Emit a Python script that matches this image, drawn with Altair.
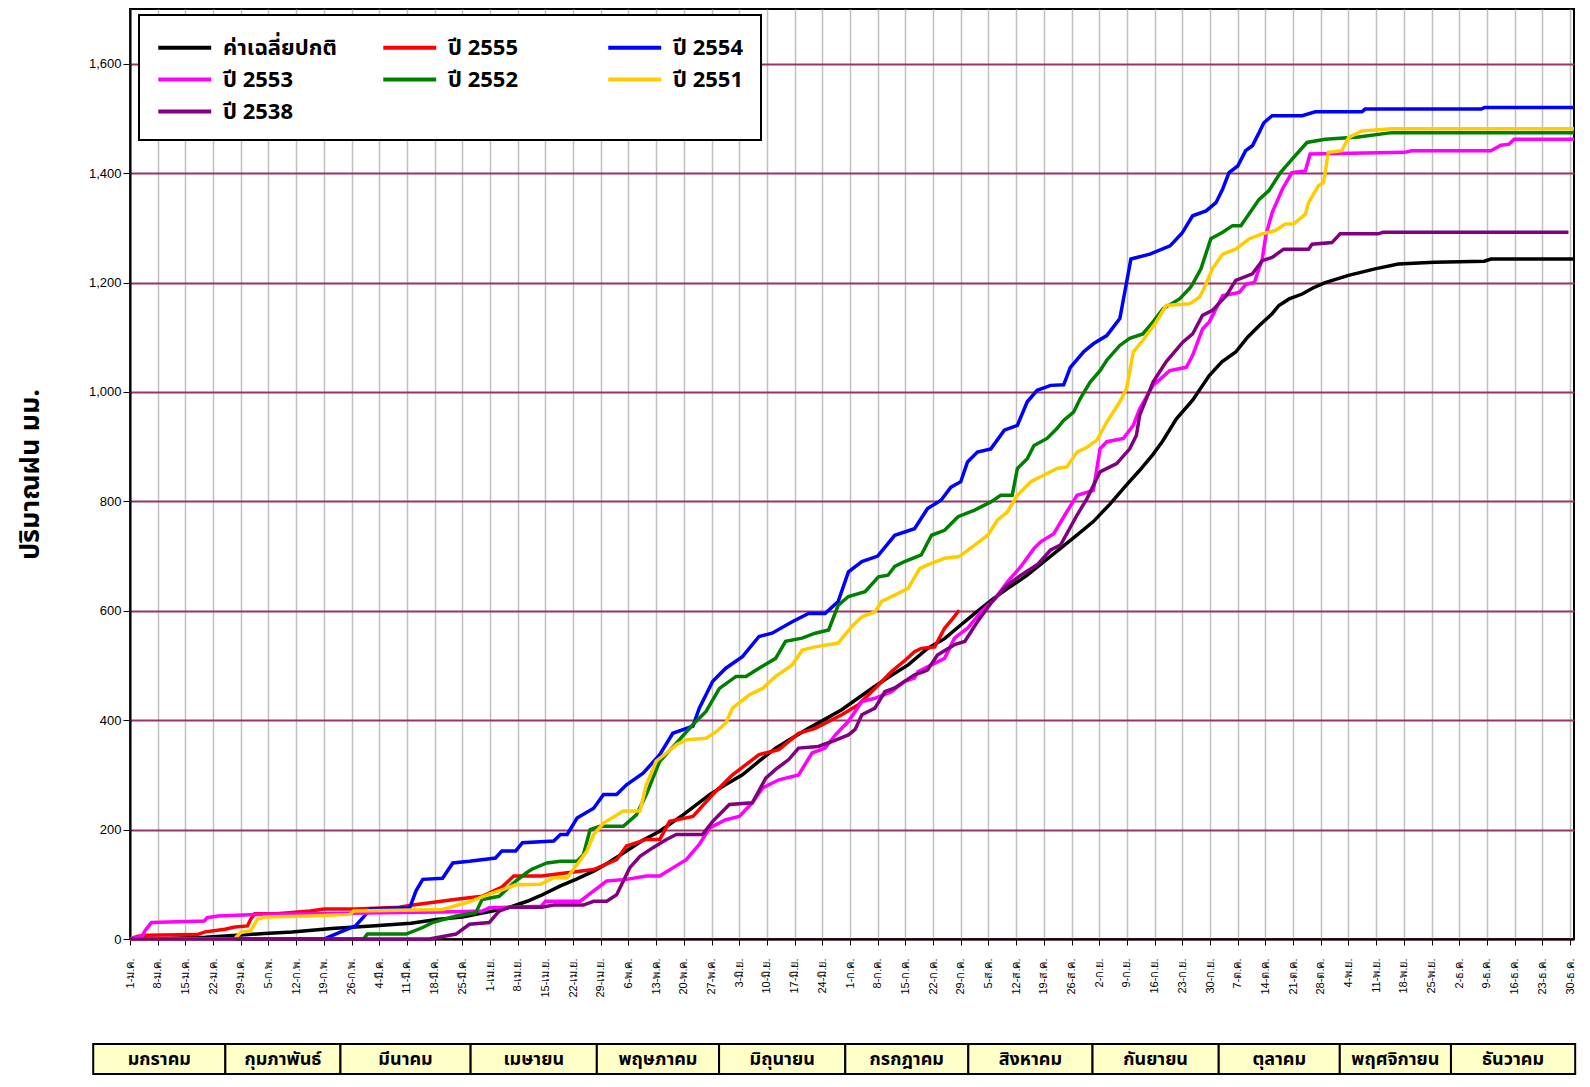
import datetime
import altair as alt
import pandas as pd

# ---------------- data ----------------
series_names = ["ค่าเฉลี่ยปกติ", "ปี 2555", "ปี 2554", "ปี 2553", "ปี 2552", "ปี 2551", "ปี 2538"]
series_colors = ["#000000", "#FF0000", "#0000FF", "#FF00FF", "#008000", "#FFCC00", "#800080"]

avg_day = [1, 10, 20, 28, 35, 42, 52, 63, 72, 79, 85, 92, 97, 101.4, 105, 109.8, 114, 118.2, 122, 126.5,
           130.5, 134.9, 140.8, 147.5, 151.5, 155.8, 160, 164.2, 168.5, 172.5, 176.5, 180.9, 185, 189.3,
           193.5, 197.7, 202.6, 206.9, 211, 215, 219.4, 223.5, 227.8, 232, 236.2, 240.5, 244.5, 248.7,
           252.9, 256, 259.5, 262, 265.5, 269.6, 273.8, 277, 280.5, 283.5, 286.4, 289.7, 291.4, 294,
           297.3, 300, 303.1, 309, 315.7, 321.6, 330.7, 343.3, 345, 366]
avg_mm = [0, 1, 3, 7, 10, 13, 19, 24, 29, 36, 40, 50, 58, 69, 80, 97, 110, 124, 140, 161,
          180, 197, 227, 264, 282, 300, 325, 349, 368, 385, 401, 419, 440, 462,
          482, 501, 531, 549, 574, 598, 623, 644, 665, 690, 714, 739, 763, 795,
          830, 855, 885, 910, 951, 985, 1030, 1055, 1073, 1100, 1121, 1143, 1158, 1170,
          1179, 1190, 1200, 1213, 1225, 1234, 1237, 1239, 1243, 1243]

y2555_day = [1, 3, 5, 18, 20, 25, 27.5, 30.7, 31.5, 32.5, 38, 46.6, 50, 58, 69, 72.5, 84, 90, 95, 98,
             105, 111.5, 118.2, 124, 126.5, 131.5, 134.9, 137.4, 143.3, 148.3, 153.3, 160, 165, 170,
             174.2, 180.9, 185.1, 189.3, 193.5, 197, 199.3, 201, 204.4, 206.9, 209, 210.6]
y2555_mm = [0, 5, 7, 8, 13, 18, 22, 24, 36, 46, 46, 51, 55, 55, 58, 62, 73, 78, 95, 115,
            115, 121, 127, 145, 170, 182, 182, 215, 224, 264, 300, 337, 346, 376,
            385, 410, 428, 458, 489, 510, 525, 531, 534, 568, 586, 601]

y2554_day = [1, 50, 54, 58, 60, 61.7, 71.7, 73.3, 75, 80, 82.6, 86.8, 93.4, 95, 98.5, 100.2, 108.1, 109.8,
             111.5, 114, 118.2, 120.7, 124, 126.5, 130.7, 134.9, 138.2, 143.3, 144.9, 148.3, 151.6, 155.8,
             160, 163.3, 168.4, 172.5, 176.7, 180, 182.6, 186, 190, 194.3, 199.3, 202.6, 206, 208.5, 211,
             212.7, 215.2, 218.6, 222, 225.3, 227.8, 230.3, 233.7, 237, 238.7, 242, 244.5, 247.9, 251.2,
             252.9, 254, 258.8, 263.9, 266.9, 269.6, 273, 275.5, 277.2, 278.8, 281, 283, 284.7, 286.4,
             287.6, 289.7, 297.3, 300.6, 312.4, 313.2, 342.6, 343.4, 366]
y2554_mm = [0, 0, 12, 24, 40, 55, 57, 88, 109, 111, 139, 142, 148, 161, 161, 176, 179, 191,
            191, 221, 239, 264, 264, 282, 303, 337, 376, 389, 422, 471, 495, 516,
            553, 559, 580, 595, 595, 617, 671, 690, 700, 738, 750, 787, 802, 826, 836,
            872, 890, 896, 930, 939, 982, 1003, 1012, 1013, 1045, 1073, 1088, 1103, 1134,
            1200, 1243, 1252, 1267, 1290, 1322, 1331, 1346, 1371, 1401, 1413, 1441, 1450, 1474,
            1492, 1505, 1505, 1512, 1512, 1517, 1517, 1520, 1520]

y2553_day = [1, 4, 4.8, 6.4, 19.8, 20.5, 23.2, 33.2, 83.4, 90, 91.8, 105, 106, 114.8, 118.2, 121.5,
             126.5, 131.5, 134.9, 138.2, 141.6, 144.9, 147.5, 151.6, 155, 158.3, 160.9, 165, 170, 173.4,
             176.7, 179.3, 182.6, 186, 189.3, 193.5, 196.8, 199.3, 200.2, 203.6, 206.9, 209.4, 212.7,
             216.1, 219.4, 222.8, 226.2, 229.5, 231.2, 234.5, 237.8, 240.4, 244.5, 246.2, 247.9, 252.1,
             254.6, 256.2, 259.6, 263.8, 268, 269.6, 272.1, 273.8, 277.2, 281.4, 283.1, 285.2, 287.2,
             288.1, 289.7, 292.3, 294.7, 298.1, 299.3, 323.2, 324.9, 345, 347.5, 349.6, 350.9, 366]
y2553_mm = [0, 5, 15, 30, 33, 39, 42, 45, 50, 51, 57, 60, 69, 69, 88, 106,
            109, 115, 115, 130, 145, 173, 203, 218, 224, 249, 276, 291, 300, 340,
            349, 373, 398, 434, 440, 452, 471, 477, 489, 501, 513, 550, 568,
            598, 620, 653, 681, 714, 726, 741, 781, 811, 820, 896, 909, 915,
            939, 969, 1012, 1039, 1045, 1067, 1115, 1128, 1176, 1182, 1197, 1200, 1243,
            1286, 1328, 1371, 1401, 1404, 1435, 1438, 1441, 1441, 1451, 1453, 1462, 1462]

y2552_day = [1, 60, 61, 70.8, 75, 77.4, 83.4, 88.4, 90, 94.3, 98.5, 101.4, 102.7, 106.4, 109.8, 114,
             115.6, 117.3, 119.8, 125.7, 129, 131.5, 134.9, 139.1, 143.3, 146.6, 150, 154.2, 156.7, 160,
             164.2, 166.7, 170.9, 174.2, 177.6, 180, 182.6, 186.8, 190.2, 192.6, 194.3, 196.8, 201, 203.6,
             206.9, 210.3, 214.5, 218.6, 221.1, 224, 225.3, 227.8, 229.5, 232.8, 235.3, 237, 239.5, 241.2,
             243.7, 246.2, 247.9, 251.2, 253.7, 257, 259.6, 262.1, 266.3, 268.8, 269.6, 271.7, 274.2,
             277.2, 279.7, 281.8, 286.4, 288.9, 291.8, 294.7, 298.5, 303.1, 311.5, 319.9, 366]
y2552_mm = [0, 0, 9, 9, 21, 30, 42, 48, 72, 78, 106, 122, 128, 139, 142, 142,
            154, 200, 206, 206, 227, 264, 325, 358, 392, 416, 458, 480, 480, 495,
            513, 544, 550, 559, 565, 610, 626, 635, 662, 665, 681, 690, 702, 738,
            747, 772, 784, 799, 811, 811, 860, 878, 902, 915, 933, 948, 963, 988,
            1018, 1039, 1058, 1085, 1098, 1106, 1128, 1152, 1170, 1189, 1197, 1225, 1280,
            1292, 1304, 1304, 1352, 1368, 1401, 1425, 1456, 1462, 1466, 1474, 1474]

y2551_day = [1, 27.4, 29, 31.5, 33.2, 34.9, 46.6, 56.6, 57.5, 80, 86.8, 91.8, 95.9, 98.5, 104.7, 108.1,
             111.5, 114, 116.5, 118.2, 120.7, 125.7, 129.9, 131.5, 134, 136.6, 139.1, 141.6, 146.6, 149.2,
             151.6, 153.3, 157.5, 160.9, 164.2, 168.4, 170.9, 174.2, 180, 183.4, 186, 189.3, 191, 195.2,
             197.7, 200.6, 202.6, 206.9, 210.6, 214.5, 217.8, 220.3, 222.8, 225.3, 228.7, 232.8, 235.3,
             237.8, 240.4, 242.9, 245.4, 247.9, 251.2, 252.9, 254.6, 257, 260.4, 262.9, 268.8, 271.3,
             272.5, 274.6, 277.2, 280.5, 283.9, 287.2, 290.5, 293, 295.1, 298.1, 298.9, 301.4, 302.7,
             303.9, 307.3, 309, 312.4, 319.9, 366]
y2551_mm = [0, 0, 12, 15, 36, 40, 42, 45, 51, 54, 68, 82, 92, 99, 100, 112,
            112, 136, 161, 191, 212, 234, 234, 282, 325, 340, 355, 364, 367, 379,
            395, 422, 446, 458, 480, 501, 528, 534, 541, 571, 589, 598, 617, 632,
            641, 677, 684, 696, 699, 720, 738, 766, 781, 811, 836, 851, 860,
            863, 890, 899, 912, 945, 982, 1006, 1073, 1094, 1128, 1158, 1161, 1173,
            1189, 1225, 1252, 1261, 1280, 1289, 1295, 1307, 1307, 1325, 1346, 1377, 1383,
            1438, 1441, 1465, 1477, 1481, 1481]

y2538_day = [1, 76.7, 83.4, 86.8, 91.8, 94.3, 96.8, 105.1, 108.1, 115.6, 118.2, 121.5, 124, 125.7,
             127.3, 129.9, 133.2, 136.6, 139.1, 145.7, 148.3, 152.5, 158.3, 161.7, 164.2, 167.5, 170,
             175, 178.4, 182.6, 184.3, 186, 189.3, 191.8, 194.3, 196.8, 199.3, 201.8, 202.6, 205.1,
             209.4, 212, 215.2, 218.6, 222.8, 226.2, 230.3, 233.7, 236.2, 240.4, 242.9, 246.2, 250.4,
             253.7, 255.4, 256.2, 259.6, 262.9, 267.1, 269.6, 272.1, 274.6, 278.1, 280.5, 284.7, 287.2,
             289.7, 292.6, 298.9, 299.8, 304.8, 306.9, 316.5, 317.8, 364.6]
y2538_mm = [0, 0, 9, 27, 30, 51, 58, 58, 62, 62, 69, 69, 81, 106,
            130, 151, 167, 182, 191, 191, 215, 246, 249, 294, 310, 328, 349,
            352, 361, 373, 383, 410, 422, 452, 459, 471, 483, 489, 492, 519,
            538, 544, 580, 614, 647, 665, 684, 711, 720, 775, 805, 854, 869,
            896, 921, 957, 1018, 1055, 1091, 1106, 1140, 1149, 1176, 1204, 1216, 1240,
            1246, 1261, 1261, 1270, 1273, 1289, 1289, 1292, 1292]

thai_month_abbr = ["ม.ค.", "ก.พ.", "มี.ค.", "เม.ย.", "พ.ค.", "มิ.ย.", "ก.ค.", "ส.ค.", "ก.ย.", "ต.ค.", "พ.ย.", "ธ.ค."]
month_names = ["มกราคม", "กุมภาพันธ์", "มีนาคม", "เมษายน", "พฤษภาคม", "มิถุนายน",
               "กรกฎาคม", "สิงหาคม", "กันยายน", "ตุลาคม", "พฤศจิกายน", "ธันวาคม"]
# edges of the month boxes of the table under the chart, in day-of-year units
month_box_edges = [-8.3, 25.1, 54.2, 87.1, 119.0, 149.9, 181.8, 212.9, 244.3, 276.2, 306.8, 334.9, 366.3]

y_tick_values = [0, 200, 400, 600, 800, 1000, 1200, 1400, 1600]

# weekly tick labels (leap year 2012 = พ.ศ. 2555)
tick_days = []
tick_labels = []
for k in range(53):
    d = datetime.date(2012, 1, 1) + datetime.timedelta(days=7 * k)
    tick_days.append(1 + 7 * k)
    tick_labels.append(f"{d.day}-{thai_month_abbr[d.month - 1]}")

# ---------------- build table ----------------
pairs = [(avg_day, avg_mm), (y2555_day, y2555_mm), (y2554_day, y2554_mm), (y2553_day, y2553_mm),
         (y2552_day, y2552_mm), (y2551_day, y2551_mm), (y2538_day, y2538_mm)]
rows = []
for name, (days, vals) in zip(series_names, pairs):
    for d, v in zip(days, vals):
        rows.append({"series": name, "day": d, "mm": v})
df = pd.DataFrame(rows)

label_array = "[" + ",".join("'" + s + "'" for s in tick_labels) + "]"
THAI = "Noto Sans Thai, Noto Sans, DejaVu Sans, sans-serif"

PLOT_W = 1444
x_scale = alt.Scale(domain=[1, 366], nice=False, zero=False)

lines = alt.Chart(df).mark_line(strokeWidth=3.5).encode(
    x=alt.X("day:Q", scale=x_scale,
            axis=alt.Axis(values=tick_days, labelExpr=label_array + "[round((datum.value - 1) / 7)]",
                          labelAngle=270, labelFont="Liberation Sans", labelFontSize=11,
                          labelColor="black", grid=True, gridColor="#C0C0C0", gridWidth=1.5,
                          tickColor="black", tickSize=6, domainColor="black", domainWidth=2,
                          labelPadding=13, title=None, labelOverlap=False)),
    y=alt.Y("mm:Q", scale=alt.Scale(domain=[0, 1700], nice=False),
            axis=alt.Axis(values=y_tick_values, format=",d", labelFont="Liberation Sans",
                          labelFontSize=13, labelColor="black", grid=True, gridColor="#993366",
                          gridWidth=2, tickColor="black", tickSize=7, domainColor="black",
                          domainWidth=2, title="ปริมาณฝน มม.", titleFont=THAI, titleFontSize=27,
                          titleFontWeight="bold", titleColor="black", titleX=-86)),
    color=alt.Color("series:N", scale=alt.Scale(domain=series_names, range=series_colors),
                    legend=alt.Legend(title=None, orient="none", legendX=9, legendY=6, columns=3,
                                      direction="horizontal", gridAlign="all",
                                      symbolType="M-1,0H3", symbolSize=700,
                                      symbolStrokeWidth=4, labelFont=THAI, labelFontSize=22,
                                      labelFontWeight="bold", labelColor="black", labelOffset=36,
                                      padding=17, fillColor="white", strokeColor="black",
                                      rowPadding=5, columnPadding=38, labelLimit=400)),
).properties(width=PLOT_W, height=930)

mdf = pd.DataFrame({"name": month_names, "start": month_box_edges[:-1], "end": month_box_edges[1:]})
mdf["mid"] = (mdf["start"] + mdf["end"]) / 2

boxes = alt.Chart(mdf).mark_rect(fill="#FFFFC8", stroke="black", strokeWidth=2, clip=False).encode(
    x=alt.X("start:Q", scale=x_scale, axis=None), x2="end:Q")
texts = alt.Chart(mdf).mark_text(font=THAI, fontSize=18, fontWeight="bold", color="black", dy=1).encode(
    x=alt.X("mid:Q", scale=x_scale, axis=None), text="name:N")
table = alt.layer(boxes, texts).properties(width=PLOT_W, height=30,
                                          view=alt.ViewBackground(strokeWidth=0))

chart = alt.vconcat(lines, table, spacing=105, bounds="flush").properties(
    padding={"left": 7, "top": 0, "right": 0, "bottom": 0}
).configure_view(stroke="black", strokeWidth=2).configure_legend(strokeWidth=2)

chart.save("out.html", embed_options={"renderer": "svg", "actions": False})
